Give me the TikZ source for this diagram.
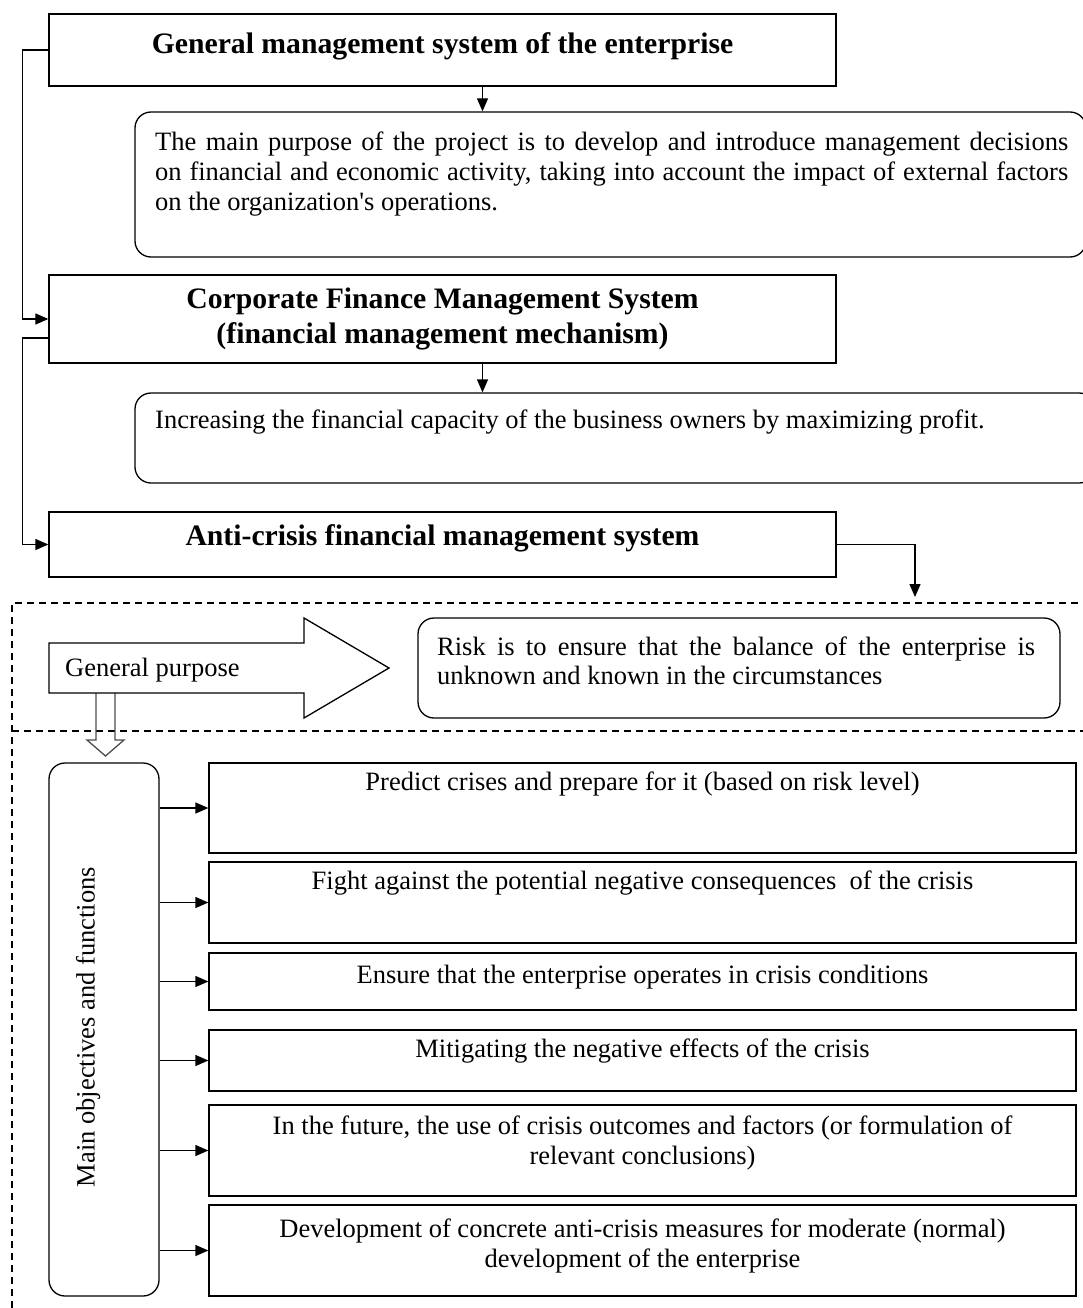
\documentclass[tikz,border=0pt]{standalone}
\usepackage{fontspec}
\setmainfont{Liberation Serif}
\usetikzlibrary{arrows.meta,positioning,calc}

\newcommand{\txtfont}{\fontsize{26.5}{29.5}\selectfont}
\newcommand{\hdfont}{\fontsize{29.7}{35}\selectfont\bfseries}
\tolerance=9999
\hbadness=10000

\begin{document}
\begin{tikzpicture}[x=1pt,y=-1pt,
        box/.style={draw, line width=1.3pt, rectangle, inner sep=0pt},
        rbox/.style={box, rounded corners=16pt},
        arr/.style={line width=1.3pt, -{Triangle[length=13pt,width=11pt]}},
        frame/.style={line width=1.1pt, dash pattern=on 7pt off 5pt},
        txt/.style={inner sep=0pt, font=\txtfont},
        head/.style={inner sep=0pt, font=\hdfont, align=center},
        fat/.style={draw, line width=1.3pt}
      ]
        \useasboundingbox (0,0) rectangle (1082,1308);

        % Systeme
        \node[box, minimum width=787pt, minimum height=72pt] (gen) at (442.5,50) {};
        \node[head, anchor=base] (genT) at (442.5,54) {General management system of the enterprise};
        \node[rbox, minimum width=951pt, minimum height=145pt] (aim) at (610.5,184.5) {};
        \node[txt, anchor=base west, text width=913pt, align=justify] (aimT) at (155,151)
          {The main purpose of the project is to develop and introduce management decisions\linebreak
           on financial and economic activity, taking into account the impact of external factors\linebreak
           on the organization\textquotesingle s operations.};
        \node[box, minimum width=787pt, minimum height=88pt] (corp) at (442.5,319) {};
        \node[head, anchor=base] (corpT) at (442.5,343) {Corporate Finance Management System\\(financial management mechanism)};
        \node[rbox, minimum width=960pt, minimum height=90pt] (goal) at (615,438) {};
        \node[txt, anchor=base west] (goalT) at (155,428)
          {Increasing the financial capacity\ of the business owners by maximizing profit.};
        \node[box, minimum width=787pt, minimum height=65pt] (anti) at (442.5,544.5) {};
        \node[head, anchor=base] (antiT) at (442.5,545) {Anti-crisis financial management system};

        % Verbindungen
        \draw[arr] (gen.west) -- ++(-26,0) |- (corp.west);
        \draw[arr] ([yshift=-19pt]corp.west) -- ++(-26,0) |- (anti.west);
        \draw[arr] ([xshift=40pt]gen.south) -- ([xshift=40pt]gen.south |- aim.north);
        \draw[arr] ([xshift=40pt]corp.south) -- ([xshift=40pt]corp.south |- goal.north);
        \coordinate (drop) at (915,597);
        \draw[arr] (anti.east) -| (drop);

        % gestrichelter Rahmen
        \draw[frame] (1090,603) -- (12,603) -- (12,1312);
        \draw[frame] (12,731) -- (1090,731);

        % Blockpfeile
        \draw[fat, draw=black!70] (96,693) -- (96,740) -- (87,740) -- (105.5,756) -- (124,740) -- (115,740) -- (115,693);
        \draw[fat] (49,643) -- (304,643) -- (304,618) -- (389,668) -- (304,718) -- (304,693) -- (49,693) -- cycle;
        \node[txt, anchor=base west] (purpT) at (65,676) {General purpose};
        \node[rbox, minimum width=642pt, minimum height=100pt] (risk) at (739,668) {};
        \node[txt, anchor=base west, text width=598pt, align=justify] (riskT) at (437,655)
          {Risk is to ensure that the balance of the enterprise is\linebreak unknown and known in the circumstances};

        % Ziele und Funktionen
        \node[rbox, minimum width=110pt, minimum height=533pt] (obj) at (104,1029.5) {};
        \node[txt, rotate=90] (objT) at (88,1027) {Main objectives and functions};

        \node[box, minimum width=867pt, minimum height=90pt] (t1) at (642.5,808) {};
        \node[box, minimum width=867pt, minimum height=81pt] (t2) at (642.5,902.5) {};
        \node[box, minimum width=867pt, minimum height=57pt] (t3) at (642.5,981.5) {};
        \node[box, minimum width=867pt, minimum height=61pt] (t4) at (642.5,1060.5) {};
        \node[box, minimum width=867pt, minimum height=91pt] (t5) at (642.5,1150.5) {};
        \node[box, minimum width=867pt, minimum height=91pt] (t6) at (642.5,1250.5) {};

        \node[txt, anchor=base] (t1T) at (642.5,790) {Predict crises and prepare for it (based on risk level)};
        \node[txt, anchor=base] (t2T) at (642.5,889) {Fight against the potential negative consequences\ \ of the crisis};
        \node[txt, anchor=base] (t3T) at (642.5,983) {Ensure that the enterprise operates in crisis conditions};
        \node[txt, anchor=base] (t4T) at (642.5,1057) {Mitigating the negative effects of the crisis};
        \node[txt, anchor=base, align=center] (t5T) at (642.5,1164)
          {In the future, the use of crisis outcomes and factors (or formulation of\\relevant conclusions)};
        \node[txt, anchor=base, align=center] (t6T) at (642.5,1267)
          {Development of concrete anti-crisis measures for moderate (normal)\\development of the enterprise};

        \draw[arr] (obj.east |- t1.west) -- (t1.west);
        \draw[arr] (obj.east |- t2.west) -- (t2.west);
        \draw[arr] (obj.east |- t3.west) -- (t3.west);
        \draw[arr] (obj.east |- t4.west) -- (t4.west);
        \draw[arr] (obj.east |- t5.west) -- (t5.west);
        \draw[arr] (obj.east |- t6.west) -- (t6.west);
      \end{tikzpicture}
\end{document}
